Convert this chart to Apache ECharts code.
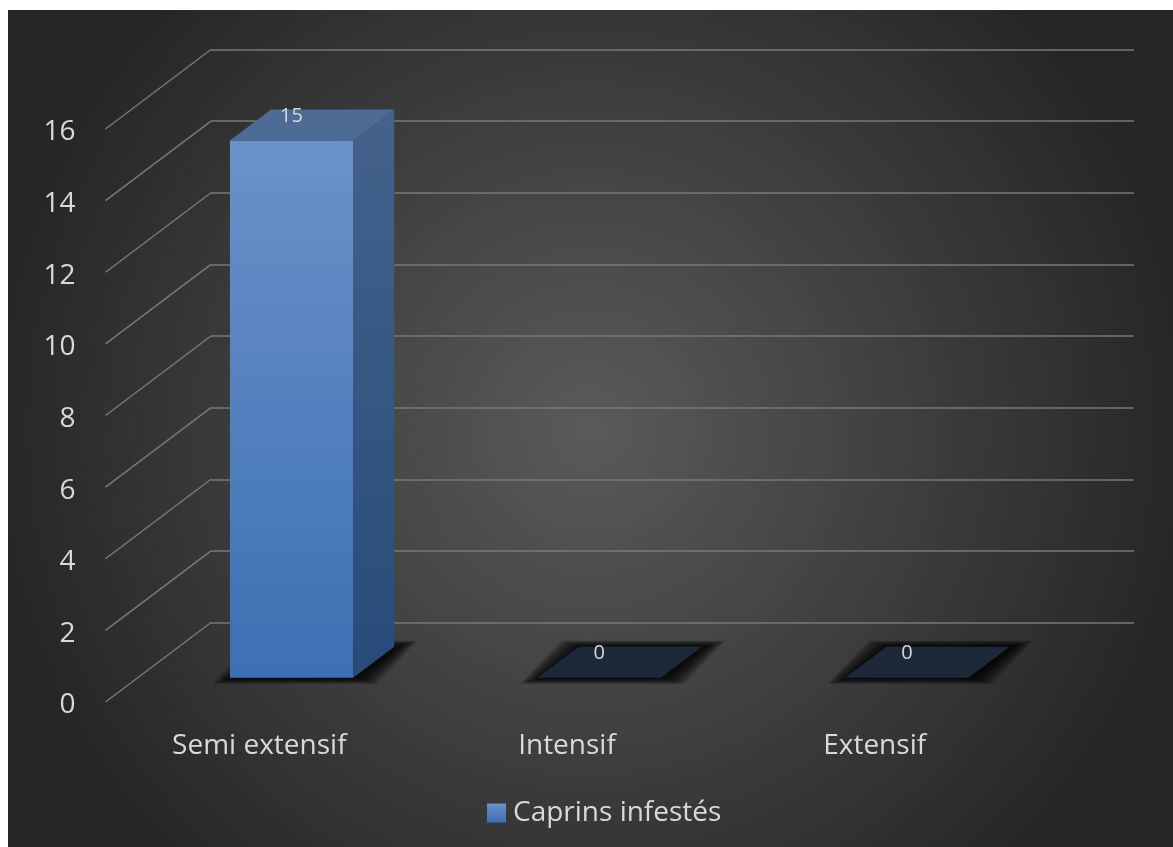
<!DOCTYPE html>
<html>
<head>
<meta charset="utf-8">
<title>Caprins infestés</title>
<script src="https://cdn.jsdelivr.net/npm/echarts@6/dist/echarts.min.js"></script>
<style>
  html, body { margin: 0; padding: 0; background: #ffffff; }
  #chart { width: 1173px; height: 847px; }
</style>
</head>
<body>
<div id="chart"></div>
<script>
// Data
const categories = ['Semi extensif', 'Intensif', 'Extensif'];
const values = [15, 0, 0];
const seriesName = 'Caprins infestés';
const yMin = 0;
const yMax = 16;
const yStep = 2;
const yTicks = [0, 2, 4, 6, 8, 10, 12, 14, 16];

// Perspective of the floor: offset from the back wall to the front edge
const DEPTH_X = -105.5;
const DEPTH_Y = 79.5;
const BAR_FRONT = 0.695;   // depth fraction of the bar's front face
const BAR_BACK = 0.305;    // depth fraction of the bar's back face
const BAR_WIDTH = 0.4;     // share of a category band

const FONT = '"Open Sans", Lato, sans-serif';
const TEXT = '#d9d9d9';
const AXIS_FONT = 28;

const frontFill = new echarts.graphic.LinearGradient(0, 0, 0, 1, [
  { offset: 0, color: '#6b91c9' },
  { offset: 1, color: '#3c70b3' }
]);
const sideFill = new echarts.graphic.LinearGradient(0, 0, 0, 1, [
  { offset: 0, color: '#44628c' },
  { offset: 1, color: '#284b79' }
]);

function renderDiagonal(params, api) {
  const cs = params.coordSys;
  const y = api.coord([0, api.value(1)])[1];
  return {
    type: 'line',
    shape: { x1: cs.x + DEPTH_X, y1: y + DEPTH_Y, x2: cs.x, y2: y },
    style: { stroke: '#797979', lineWidth: 1.5 }
  };
}

function renderBar(params, api) {
  const idx = api.value(0);
  const val = api.value(1);
  const base = api.coord([idx, 0]);
  const top = api.coord([idx, val]);
  const hw = api.size([1, 0])[0] * BAR_WIDTH / 2;
  const cx = base[0];

  const fx = cx + DEPTH_X * BAR_FRONT, fdy = DEPTH_Y * BAR_FRONT;
  const bx = cx + DEPTH_X * BAR_BACK, bdy = DEPTH_Y * BAR_BACK;

  const fB = base[1] + fdy, fT = top[1] + fdy;
  const bB = base[1] + bdy, bT = top[1] + bdy;

  const children = [];
  // soft shadow around the footprint, built from stacked translucent rings
  const layers = 14;
  for (let k = layers; k >= 1; k--) {
    const ex = k * 1.5, ey = k * 0.45, sx = 3;
    children.push({
      type: 'polygon',
      shape: { points: [
        [fx - hw - ex + sx, fB + ey], [fx + hw + ex + sx, fB + ey],
        [bx + hw + ex + sx, bB - ey], [bx - hw - ex + sx, bB - ey]
      ] },
      style: { fill: 'rgba(0,0,0,0.1)' },
      silent: true
    });
  }
  if (val > 0) {
    children.push({
      type: 'rect',
      shape: { x: fx - hw, y: fT, width: hw * 2, height: fB - fT },
      style: { fill: frontFill }
    });
    children.push({
      type: 'polygon',
      shape: { points: [[fx + hw, fT], [bx + hw, bT], [bx + hw, bB], [fx + hw, fB]] },
      style: { fill: sideFill }
    });
  }
  children.push({
    type: 'polygon',
    shape: { points: [[fx - hw, fT], [fx + hw, fT], [bx + hw, bT], [bx - hw, bT]] },
    style: { fill: val > 0 ? '#4e6b95' : '#1d2839' }
  });
  children.push({
    type: 'text',
    style: {
      text: String(val),
      x: fx, y: bT + 7,
      fill: TEXT,
      font: '20px ' + FONT,
      align: 'center', verticalAlign: 'middle',
      textAlign: 'center', textVerticalAlign: 'middle'
    }
  });
  return { type: 'group', children: children };
}

const chart = echarts.init(document.getElementById('chart'), null, { renderer: 'canvas' });

chart.setOption({
  backgroundColor: '#ffffff',
  animation: false,
  textStyle: { fontFamily: FONT },
  graphic: [{
    type: 'rect',
    z: -100,
    shape: { x: 8, y: 10, width: 1165, height: 837 },
    style: {
      fill: new echarts.graphic.RadialGradient(0.5, 0.5, 0.72, [
        { offset: 0, color: '#5a5a5a' },
        { offset: 1, color: '#262626' }
      ])
    },
    silent: true
  }],
  legend: {
    data: [seriesName],
    left: 482,
    top: 794,
    icon: 'rect',
    itemWidth: 19,
    itemHeight: 19,
    textStyle: { color: TEXT, fontSize: AXIS_FONT, fontFamily: FONT, padding: [0, 0, 0, 2] }
  },
  grid: [
    // back wall
    { left: 211, top: 49.5, width: 923, height: 573 },
    // front edge of the floor, where the axis labels sit
    { left: 211 + DEPTH_X, top: 49.5 + DEPTH_Y + 3.5, width: 923, height: 573 }
  ],
  xAxis: [
    {
      type: 'category', gridIndex: 0, data: categories,
      axisLine: { show: false }, axisTick: { show: false }, axisLabel: { show: false }
    },
    {
      type: 'category', gridIndex: 1, data: categories,
      axisLine: { show: false }, axisTick: { show: false },
      axisLabel: { color: TEXT, fontSize: AXIS_FONT, fontFamily: FONT, margin: 27 }
    }
  ],
  yAxis: [
    {
      type: 'value', gridIndex: 0, min: yMin, max: yMax, interval: yStep,
      axisLine: { show: false }, axisTick: { show: false }, axisLabel: { show: false },
      splitLine: { show: true, lineStyle: { color: '#797979', width: 1.5 } }
    },
    {
      type: 'value', gridIndex: 1, min: yMin, max: yMax, interval: yStep,
      axisLine: { show: false }, axisTick: { show: false },
      splitLine: { show: false },
      axisLabel: { color: TEXT, fontSize: AXIS_FONT, fontFamily: FONT, margin: 30 }
    }
  ],
  series: [
    {
      type: 'custom',
      name: 'floor-lines',
      xAxisIndex: 0, yAxisIndex: 0,
      renderItem: renderDiagonal,
      data: yTicks.map(function (v) { return [0, v]; }),
      silent: true,
      z: 1
    },
    {
      type: 'custom',
      name: seriesName,
      xAxisIndex: 0, yAxisIndex: 0,
      itemStyle: { color: frontFill },
      renderItem: renderBar,
      data: values.map(function (v, i) { return [i, v]; }),
      z: 5
    }
  ]
});
</script>
</body>
</html>
